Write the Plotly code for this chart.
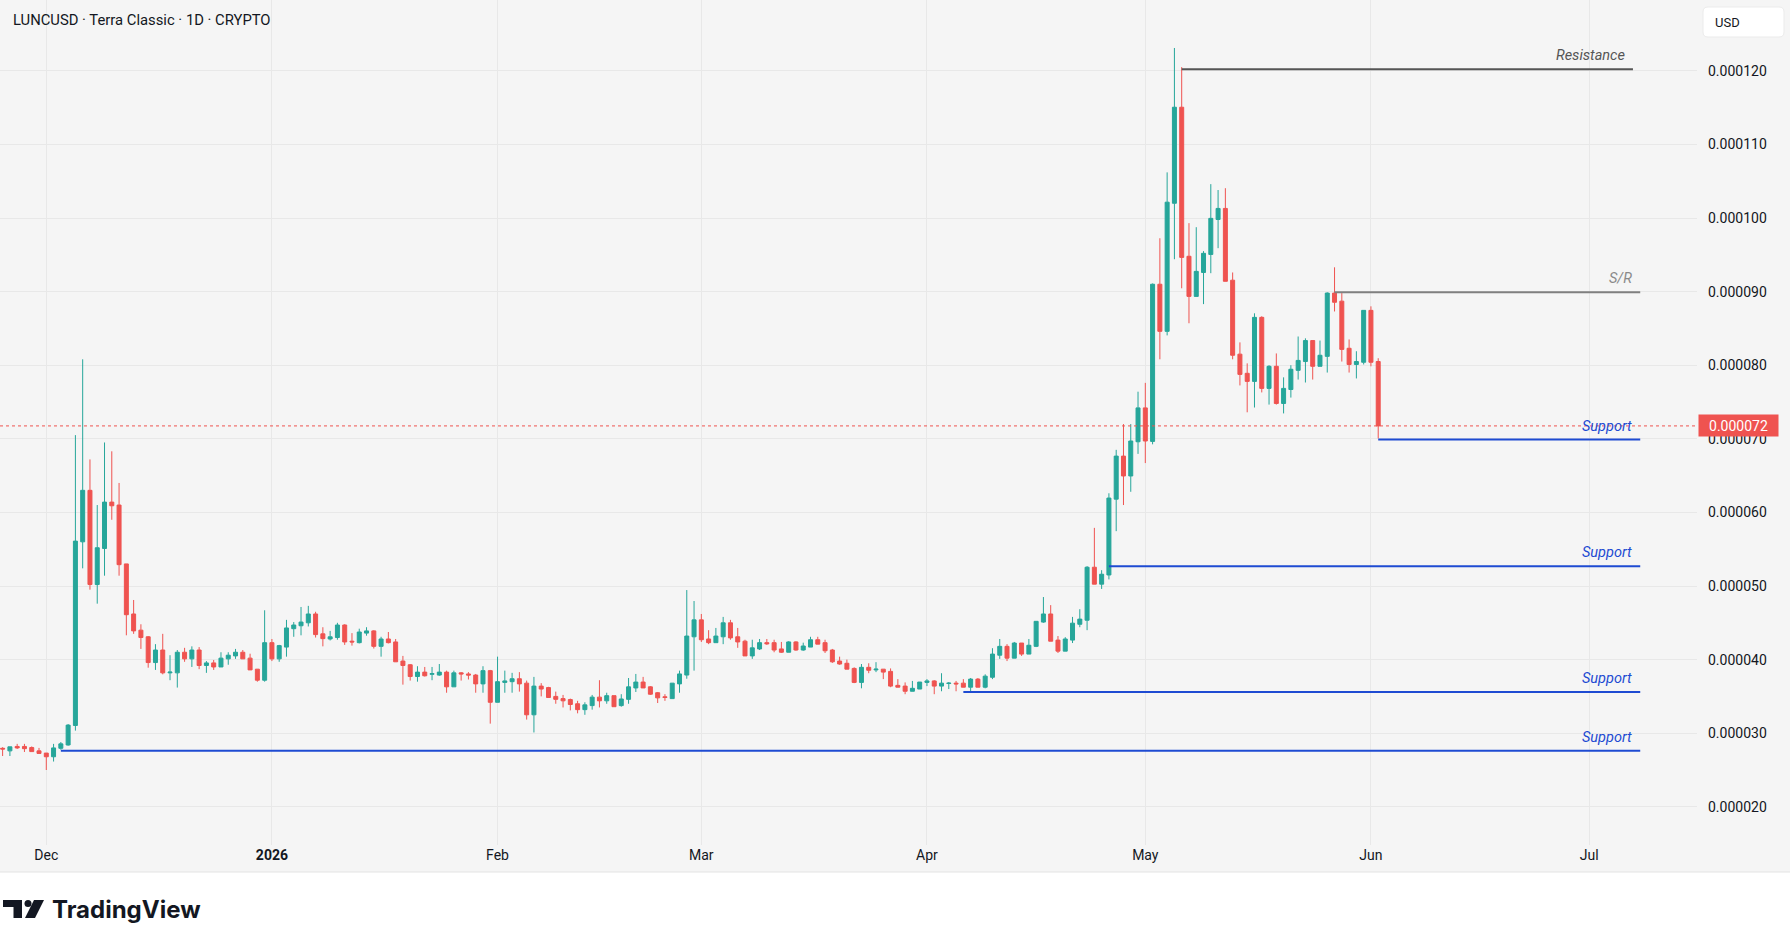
import plotly.graph_objects as go
import pandas as pd

# ---------------- data (prices in units of 1e-6 USD) ----------------
START_DATE = "2025-11-25"
SCALE = 1e-6

open_u = [
    27.95, 27.6, 28.2, 28.2, 28.05, 27.6, 27.3, 26.8, 27.95, 28.4,
    31.05, 56.0, 63.0, 50.2, 55.1, 61.4, 61.0, 53.0, 46.2, 44.0,
    43.1, 39.6, 41.3, 38.2, 38.2, 41.0, 40.1, 41.3, 39.2, 39.55,
    39.0, 40.1, 40.5, 41.0, 40.2, 38.7, 37.2, 42.3, 40.1, 41.7,
    44.2, 44.6, 45.0, 46.2, 43.5, 42.8, 43.0, 44.7, 42.5, 42.3,
    43.6, 43.9, 41.8, 42.8, 42.4, 39.8, 39.3, 37.7, 38.3, 38.0,
    37.9, 38.3, 36.3, 38.2, 38.05, 37.9, 36.7, 38.5, 34.2, 36.9,
    37.0, 37.4, 36.8, 32.5, 36.4, 36.2, 35.0, 34.7, 34.57, 34.0,
    33.2, 33.75, 34.9, 34.4, 35.1, 33.75, 34.6, 36.15, 36.95, 36.3,
    35.5, 34.95, 34.7, 36.7, 37.9, 43.1, 45.4, 42.8, 42.3, 43.1,
    45.0, 43.1, 42.5, 40.5, 41.45, 42.3, 42.3, 41.45, 41.0, 42.4,
    41.3, 41.7, 42.7, 42.3, 41.3, 39.8, 39.5, 38.8, 36.9, 38.95,
    38.6, 38.7, 38.4, 36.5, 36.4, 35.7, 36.0, 36.9, 37.1, 36.4,
    36.75, 36.8, 36.8, 36.25, 37.35, 36.25, 37.6, 40.6, 41.8, 40.2,
    42.25, 40.75, 41.8, 45.1, 46.2, 42.65, 41.15, 42.65, 44.8, 45.35,
    52.55, 50.25, 51.5, 61.8, 67.65, 64.95, 69.6, 74.2, 69.65, 91.0,
    84.6, 102.0, 115.05, 94.8, 89.35, 92.6, 95.05, 99.8, 101.3, 91.55,
    81.5, 78.9, 77.8, 86.5, 76.85, 79.85, 74.8, 76.7, 79.3, 80.5,
    83.35, 79.85, 81.2, 89.8, 88.7, 82.3, 80.1, 80.4, 87.45, 80.5,
]
high_u = [
    28.1, 28.15, 28.55, 28.55, 28.2, 28.0, 27.3, 28.55, 28.8, 31.25,
    70.5, 80.8, 67.2, 61.0, 69.5, 68.3, 64.0, 53.0, 48.1, 44.8,
    43.2, 42.1, 43.5, 40.6, 41.3, 41.6, 41.8, 41.7, 39.8, 39.95,
    41.0, 41.0, 41.45, 41.3, 40.8, 38.7, 46.7, 42.8, 42.0, 45.4,
    45.1, 47.15, 47.3, 46.5, 44.4, 43.9, 45.0, 44.8, 43.6, 44.2,
    44.4, 44.0, 43.1, 43.75, 42.8, 40.5, 39.4, 39.1, 39.0, 39.0,
    39.4, 38.5, 38.5, 38.3, 38.3, 38.05, 39.1, 38.6, 40.4, 38.5,
    38.2, 38.3, 37.15, 37.65, 36.8, 36.3, 35.65, 35.2, 34.7, 34.4,
    34.2, 35.2, 37.2, 35.5, 35.1, 35.3, 37.5, 38.05, 37.65, 36.4,
    35.6, 35.3, 36.8, 38.5, 49.45, 47.96, 46.2, 44.0, 44.3, 45.8,
    45.4, 44.3, 42.7, 42.7, 42.8, 42.8, 42.7, 42.4, 42.5, 42.5,
    42.3, 43.1, 43.1, 42.7, 41.45, 40.4, 40.0, 38.95, 39.4, 39.5,
    39.65, 38.7, 38.8, 37.35, 36.9, 37.1, 36.95, 37.35, 37.2, 38.15,
    36.95, 37.1, 37.35, 37.5, 37.5, 38.0, 41.55, 42.8, 42.1, 42.4,
    42.25, 42.8, 45.2, 48.5, 47.4, 43.2, 43.05, 45.8, 46.85, 52.7,
    57.9, 52.15, 62.6, 68.5, 72.0, 72.0, 76.4, 77.6, 91.1, 97.25,
    106.2, 123.1, 120.5, 99.3, 98.75, 95.5, 104.6, 103.8, 104.05, 92.6,
    83.1, 80.25, 87.05, 86.65, 80.0, 81.6, 78.35, 80.0, 83.9, 83.65,
    83.35, 83.35, 89.9, 93.3, 89.8, 83.5, 81.9, 87.45, 88.0, 80.95,
]
low_u = [
    26.9, 26.9, 27.85, 27.45, 27.5, 27.25, 25.0, 26.15, 27.75, 28.3,
    30.35, 52.4, 49.5, 47.6, 51.4, 59.0, 51.4, 43.3, 43.5, 41.45,
    38.9, 38.6, 38.0, 37.2, 36.2, 39.7, 39.0, 38.7, 38.2, 38.6,
    39.0, 39.3, 40.1, 40.1, 38.6, 37.0, 37.0, 39.8, 39.7, 40.4,
    43.1, 43.3, 44.5, 43.0, 41.8, 42.6, 42.7, 42.0, 41.9, 42.2,
    43.25, 41.5, 40.4, 42.2, 39.7, 36.6, 37.15, 37.0, 37.7, 37.2,
    37.8, 35.5, 36.3, 37.15, 37.3, 35.5, 35.5, 31.3, 34.2, 35.5,
    35.5, 35.65, 31.85, 30.1, 35.0, 34.85, 34.0, 33.5, 33.1, 32.7,
    32.5, 33.2, 33.5, 34.0, 33.6, 33.6, 34.0, 35.6, 36.15, 35.2,
    34.1, 34.4, 34.7, 35.5, 37.4, 38.5, 42.4, 42.1, 42.3, 42.1,
    42.7, 41.6, 40.5, 40.1, 41.3, 42.0, 41.0, 40.9, 41.0, 41.2,
    41.2, 41.7, 42.1, 40.9, 39.55, 39.3, 38.7, 36.8, 36.1, 38.15,
    38.3, 37.35, 36.25, 36.25, 35.3, 35.7, 36.0, 36.4, 35.3, 35.7,
    36.0, 35.7, 36.25, 35.6, 36.25, 36.1, 37.35, 40.1, 39.8, 40.2,
    40.5, 40.75, 41.7, 45.0, 42.5, 40.9, 41.15, 42.25, 44.4, 44.0,
    50.25, 49.6, 50.9, 57.45, 61.0, 62.8, 67.95, 66.7, 69.25, 80.8,
    84.05, 94.4, 90.45, 85.7, 89.35, 88.3, 92.5, 95.9, 91.4, 80.8,
    77.25, 73.6, 74.25, 76.3, 74.65, 74.65, 73.45, 75.6, 78.05, 77.65,
    78.05, 79.85, 79.0, 87.3, 80.5, 79.0, 78.2, 80.1, 79.85, 70.05,
]
close_u = [
    27.85, 28.15, 28.0, 27.9, 27.5, 27.25, 26.8, 28.0, 28.55, 31.1,
    56.1, 63.0, 50.2, 55.2, 61.4, 60.9, 52.9, 46.1, 43.9, 43.0,
    39.6, 41.3, 38.2, 38.3, 41.0, 40.1, 41.3, 39.2, 39.55, 39.0,
    40.2, 40.6, 41.0, 40.1, 38.6, 37.2, 42.3, 40.1, 41.9, 44.3,
    44.7, 45.1, 46.2, 43.4, 42.85, 43.1, 44.7, 42.4, 42.4, 43.75,
    43.9, 41.8, 42.8, 42.3, 39.7, 39.2, 37.7, 38.3, 37.8, 38.1,
    38.3, 36.3, 38.2, 38.05, 37.9, 36.7, 38.5, 34.2, 37.0, 37.1,
    37.4, 36.7, 32.5, 36.4, 36.0, 34.85, 34.6, 34.4, 33.9, 33.2,
    33.85, 34.9, 34.4, 35.1, 33.6, 34.65, 36.3, 36.95, 36.15, 35.3,
    34.8, 34.85, 36.8, 38.05, 43.2, 45.4, 42.7, 42.3, 43.2, 45.0,
    42.95, 42.4, 40.5, 41.6, 42.3, 42.15, 41.3, 41.0, 42.4, 41.3,
    41.85, 42.7, 42.1, 41.2, 39.7, 39.4, 38.7, 36.9, 38.95, 38.55,
    38.7, 38.3, 36.4, 36.25, 35.7, 36.1, 36.95, 37.1, 36.4, 36.8,
    36.8, 36.7, 36.25, 37.35, 36.25, 37.75, 40.75, 41.8, 40.2, 42.25,
    40.75, 41.95, 45.2, 46.2, 42.5, 41.15, 42.8, 44.95, 45.5, 52.55,
    50.25, 51.6, 61.95, 67.65, 64.95, 69.7, 74.2, 69.7, 91.0, 84.6,
    102.15, 115.05, 94.65, 89.35, 92.75, 95.2, 99.95, 101.3, 91.4, 81.35,
    78.75, 77.8, 86.5, 76.85, 79.85, 74.8, 76.85, 79.45, 80.65, 83.35,
    79.85, 81.35, 89.8, 88.55, 82.15, 80.1, 80.5, 87.45, 80.4, 71.75,
]

month_tick_dates = ["2025-12-01", "2026-01-01", "2026-02-01", "2026-03-01",
                    "2026-04-01", "2026-05-01", "2026-06-01", "2026-07-01"]
month_tick_labels = ["Dec", "<b>2026</b>", "Feb", "Mar", "Apr", "May", "Jun", "Jul"]
price_ticks_u = [20, 30, 40, 50, 60, 70, 80, 90, 100, 110, 120]

level_names = ["Resistance", "S/R", "Support", "Support", "Support", "Support"]
level_values_u = [120.2, 89.9, 69.9, 52.7, 35.6, 27.6]
level_starts = ["2026-05-06", "2026-05-27", "2026-06-02", "2026-04-26", "2026-04-06", "2025-12-03"]
level_ends = ["2026-07-07", "2026-07-08", "2026-07-08", "2026-07-08", "2026-07-08", "2026-07-08"]

TITLE = "LUNCUSD · Terra Classic · 1D · CRYPTO"

# ---------------- styling ----------------
W, H = 1790, 947
ML, MR, MT, MB = 0, 93, 0, 102
PW, PH = W - ML - MR, H - MT - MB
UP, DOWN = "#26a69a", "#ef5350"
BG, GRID = "#f5f5f5", "#e8e8e8"
TXT = "#131722"
BLUE = "#1e4bd2"
level_colors = ["#555555", "#808080", BLUE, BLUE, BLUE, BLUE]
level_text_colors = ["#555555", "#8a8a8a", BLUE, BLUE, BLUE, BLUE]
FONT = "Roboto"


def px_x(px):
    return (px - ML) / PW


def px_y(py):
    return (MT + PH - py) / PH


dates = pd.date_range(START_DATE, periods=len(open_u), freq="D")
to_price = lambda arr: [v * SCALE for v in arr]

base = pd.Timestamp("2025-12-01")
x_range = [base + pd.Timedelta(days=-6.36), base + pd.Timedelta(days=226.8)]
y_range = [14.81 * SCALE, 129.62 * SCALE]

fig = go.Figure()
fig.add_trace(go.Candlestick(
    x=dates,
    open=to_price(open_u), high=to_price(high_u),
    low=to_price(low_u), close=to_price(close_u),
    increasing=dict(line=dict(color=UP, width=1), fillcolor=UP),
    decreasing=dict(line=dict(color=DOWN, width=1), fillcolor=DOWN),
    whiskerwidth=0,
    hoverinfo="skip",
    showlegend=False,
))

shapes = []
# white area below chart
shapes.append(dict(type="rect", xref="paper", yref="paper",
                   x0=px_x(-5), x1=px_x(W + 5), y0=px_y(872), y1=px_y(H + 5),
                   fillcolor="#ffffff", line=dict(width=0), layer="below"))
shapes.append(dict(type="line", xref="paper", yref="paper",
                   x0=px_x(0), x1=px_x(W), y0=px_y(872), y1=px_y(872),
                   line=dict(color="#e3e3e3", width=1), layer="below"))

# level lines
for name, val, s, e, col in zip(level_names, level_values_u, level_starts, level_ends, level_colors):
    shapes.append(dict(type="line", xref="x", yref="y", x0=s, x1=e,
                       y0=val * SCALE, y1=val * SCALE,
                       line=dict(color=col, width=2), layer="above"))

# last price dotted line
last_close = close_u[-1] * SCALE
shapes.append(dict(type="line", xref="paper", yref="y", x0=0, x1=1,
                   y0=last_close, y1=last_close,
                   line=dict(color=DOWN, width=1, dash="dot"), layer="above"))


def rounded_rect(x0, y0, x1, y1, r):
    X = px_x
    Y = px_y
    return (f"M {X(x0 + r)},{Y(y0)} L {X(x1 - r)},{Y(y0)} Q {X(x1)},{Y(y0)} {X(x1)},{Y(y0 + r)} "
            f"L {X(x1)},{Y(y1 - r)} Q {X(x1)},{Y(y1)} {X(x1 - r)},{Y(y1)} "
            f"L {X(x0 + r)},{Y(y1)} Q {X(x0)},{Y(y1)} {X(x0)},{Y(y1 - r)} "
            f"L {X(x0)},{Y(y0 + r)} Q {X(x0)},{Y(y0)} {X(x0 + r)},{Y(y0)} Z")


# USD box
shapes.append(dict(type="path", xref="paper", yref="paper",
                   path=rounded_rect(1703, 7, 1784, 37, 5),
                   fillcolor="#ffffff", line=dict(color="#ebebeb", width=1), layer="above"))

# TradingView logo mark
shapes.append(dict(type="path", xref="paper", yref="paper",
                   path=(f"M {px_x(3)},{px_y(900)} L {px_x(22)},{px_y(900)} L {px_x(22)},{px_y(918)} "
                         f"L {px_x(13.5)},{px_y(918)} L {px_x(13.5)},{px_y(907)} L {px_x(3)},{px_y(907)} Z"),
                   fillcolor=TXT, line=dict(width=0), layer="above"))
shapes.append(dict(type="circle", xref="paper", yref="paper",
                   x0=px_x(24.5), x1=px_x(31.5), y0=px_y(907), y1=px_y(900),
                   fillcolor=TXT, line=dict(width=0), layer="above"))
shapes.append(dict(type="path", xref="paper", yref="paper",
                   path=(f"M {px_x(34)},{px_y(900)} L {px_x(44)},{px_y(900)} L {px_x(35)},{px_y(918)} "
                         f"L {px_x(25)},{px_y(918)} Z"),
                   fillcolor=TXT, line=dict(width=0), layer="above"))

annotations = []
annotations.append(dict(text=TITLE, xref="paper", yref="paper", x=px_x(11), y=px_y(20),
                        xanchor="left", yanchor="middle", showarrow=False,
                        font=dict(family=FONT, size=14.8, color=TXT)))
for name, val, e, tcol in zip(level_names, level_values_u, level_ends, level_text_colors):
    annotations.append(dict(text=f"<i>{name}</i>", xref="x", yref="y", x=e, y=val * SCALE,
                            xanchor="right", yanchor="bottom", xshift=-6, yshift=3,
                            showarrow=False, font=dict(family=FONT, size=14.5, color=tcol)))
annotations.append(dict(text=f"{last_close:.6f}", xref="paper", yref="y",
                        x=px_x(1698), y=last_close, xanchor="left", yanchor="middle",
                        showarrow=False, bgcolor=DOWN, borderpad=2, width=75, height=17,
                        font=dict(family=FONT, size=14, color="#ffffff")))
annotations.append(dict(text="USD", xref="paper", yref="paper", x=px_x(1713), y=px_y(22),
                        xanchor="left", yanchor="middle", showarrow=False,
                        font=dict(family=FONT, size=13, color=TXT)))
annotations.append(dict(text="<b>TradingView</b>", xref="paper", yref="paper",
                        x=px_x(50), y=px_y(909), xanchor="left", yanchor="middle",
                        showarrow=False, font=dict(family="Inter", size=24, color=TXT)))

fig.update_layout(
    width=W, height=H,
    margin=dict(l=ML, r=MR, t=MT, b=MB, pad=0),
    paper_bgcolor=BG, plot_bgcolor=BG,
    boxgap=0.25, boxgroupgap=0.27,
    shapes=shapes, annotations=annotations,
    showlegend=False,
    font=dict(family=FONT, color=TXT),
    xaxis=dict(
        type="date", range=x_range, rangeslider=dict(visible=False),
        tickmode="array", tickvals=month_tick_dates, ticktext=month_tick_labels,
        showgrid=True, gridcolor=GRID, gridwidth=1, zeroline=False, showline=False,
        ticks="", tickfont=dict(family=FONT, size=14, color=TXT),
        fixedrange=True,
    ),
    yaxis=dict(
        side="right", range=y_range,
        tickmode="array", tickvals=[v * SCALE for v in price_ticks_u],
        ticktext=[f"{v * SCALE:.6f}" for v in price_ticks_u],
        showgrid=True, gridcolor=GRID, gridwidth=1, zeroline=False, showline=False,
        ticks="", ticklabelstandoff=10,
        tickfont=dict(family=FONT, size=14, color=TXT),
        fixedrange=True,
    ),
)

fig.write_html("out.html")
